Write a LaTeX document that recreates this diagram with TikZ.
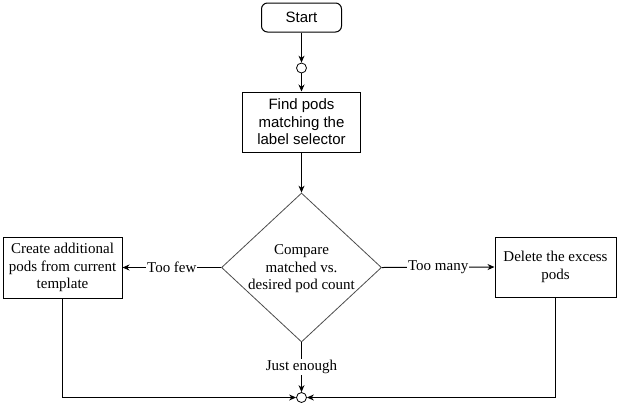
\documentclass[tikz,border=0pt]{standalone}
\usepackage{fontspec}
\setmainfont{Liberation Serif}
\newfontfamily\arialf{Liberation Sans}
\usetikzlibrary{arrows.meta,shapes.geometric}
\begin{document}
\begin{tikzpicture}[x=1pt,y=-1pt,
  txt/.style={font=\fontsize{15}{17.5}\selectfont,align=center},
  box/.style={draw,line width=1pt,inner sep=0pt,txt},
  dot/.style={draw,circle,line width=0.8pt,minimum size=10pt,inner sep=0pt,fill=white},
  conn/.style={line width=1pt,-{Stealth[length=7pt,width=6pt]}},
  lbl/.style={fill=white,inner sep=1pt,txt}
]
\useasboundingbox (0,0) rectangle (618,408);
\node[box,rounded corners=6pt,minimum width=80pt,minimum height=29pt,font=\arialf\fontsize{15}{17.5}\selectfont] (start) at (301.5,17.5) {Start};
\node[dot] (c1) at (301.5,68) {};
\node[box,minimum width=118pt,minimum height=60pt,font=\arialf\fontsize{15}{17.5}\selectfont] (find) at (301.5,122) {Find pods\\matching the\\label selector};
\node[diamond,draw=black!70,line width=0.8pt,minimum width=160pt,minimum height=149pt,inner sep=0pt] (cmp) at (301.5,267.5) {};
\node[txt] (cmptxt) at (301.5,269) {Compare\\matched vs.\\desired pod count};
\node[box,minimum width=119pt,minimum height=61pt] (create) at (62.5,267.5) {Create additional\\pods from current\\template};
\node[box,minimum width=121pt,minimum height=60pt] (del) at (555.5,267) {Delete the excess\\pods};
\node[dot] (c2) at (301.5,397.5) {};
\coordinate (lc) at (create.south |- c2);
\coordinate (rc) at (del.south |- c2);

\draw[conn] (start) -- (c1);
\draw[conn] (c1) -- (find);
\draw[conn] (find) -- (cmp.north);
\draw[conn] (cmp.west) -- node[lbl]{Too few} (create.east);
\draw[conn] (cmp.east) -- node[lbl]{Too many} (del.west);
\draw[conn] (cmp.south) -- node[lbl]{Just enough} (c2);
\draw[conn] (create.south) -- (lc) -- (c2);
\draw[conn] (del.south) -- (rc) -- (c2);
\end{tikzpicture}
\end{document}
